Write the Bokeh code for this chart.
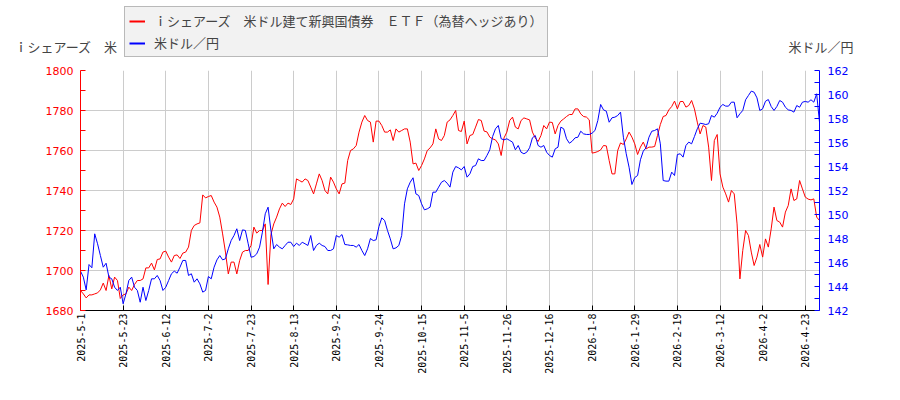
import numpy as np
from bokeh.plotting import figure
from bokeh.layouts import column, row
from bokeh.models import Range1d, LinearAxis, FixedTicker, Legend, LegendItem, Label
from bokeh.embed import file_html
from bokeh.resources import INLINE

# x tick labels (one every 15 trading days)
tick_dates = ["2025-5-1", "2025-5-23", "2025-6-12", "2025-7-2", "2025-7-23",
              "2025-8-13", "2025-9-2", "2025-9-24", "2025-10-15", "2025-11-5",
              "2025-11-26", "2025-12-16", "2026-1-8", "2026-1-29", "2026-2-19",
              "2026-3-12", "2026-4-2", "2026-4-23"]
tick_idx = [15 * k for k in range(len(tick_dates))]

# iShares USD EM bond ETF (hedged), left axis
etf_price = [
    1690.0, 1688.3, 1686.3, 1687.8, 1687.8, 1688.3, 1688.8, 1690.3, 1693.7, 1690.0,
    1697.5, 1690.8, 1696.7, 1695.0, 1686.0, 1687.8, 1688.3, 1691.7, 1690.0, 1693.0,
    1695.0, 1695.0, 1695.8, 1701.3, 1701.3, 1703.7, 1700.3, 1705.5, 1705.8, 1709.2,
    1709.7, 1706.7, 1704.2, 1707.5, 1707.8, 1706.0, 1708.7, 1709.2, 1711.7, 1720.0,
    1722.5, 1723.3, 1723.8, 1737.8, 1736.3, 1737.0, 1737.5, 1734.2, 1731.7, 1726.7,
    1718.3, 1709.2, 1698.3, 1704.2, 1704.2, 1698.3, 1705.0, 1709.2, 1710.0, 1710.0,
    1712.5, 1721.7, 1718.7, 1720.0, 1720.0, 1723.3, 1693.0, 1718.0, 1723.3, 1726.7,
    1730.8, 1733.7, 1732.0, 1733.7, 1733.0, 1735.8, 1745.8, 1745.0, 1744.2, 1745.8,
    1745.0, 1741.7, 1738.3, 1743.3, 1748.3, 1745.0, 1740.0, 1738.3, 1746.7, 1744.2,
    1740.8, 1738.3, 1743.3, 1743.7, 1755.0, 1760.0, 1760.8, 1762.5, 1769.2, 1774.2,
    1777.5, 1775.0, 1774.2, 1764.2, 1774.7, 1774.7, 1772.5, 1769.2, 1769.2, 1770.3,
    1765.0, 1770.8, 1769.2, 1770.0, 1770.8, 1770.8, 1764.2, 1753.3, 1753.7, 1750.0,
    1752.5, 1755.8, 1760.0, 1761.3, 1763.3, 1770.8, 1765.8, 1765.0, 1767.5, 1774.2,
    1775.3, 1777.5, 1780.0, 1770.0, 1769.5, 1774.7, 1763.3, 1767.5, 1768.0, 1771.7,
    1775.5, 1775.0, 1769.7, 1769.3, 1766.7, 1765.8, 1765.3, 1763.3, 1757.5, 1766.3,
    1769.2, 1775.0, 1776.7, 1771.7, 1770.8, 1775.0, 1776.3, 1775.8, 1775.3, 1769.2,
    1766.3, 1764.5, 1767.5, 1772.5, 1770.8, 1774.2, 1774.0, 1768.3, 1772.5, 1774.7,
    1775.8, 1777.0, 1778.0, 1778.0, 1780.8, 1780.8, 1778.3, 1777.0, 1776.7, 1775.3,
    1758.7, 1759.0, 1759.5, 1760.3, 1762.5, 1762.3, 1755.0, 1748.3, 1748.3, 1760.0,
    1763.8, 1763.0, 1765.8, 1769.2, 1766.7, 1763.3, 1758.0, 1761.7, 1764.2, 1760.8,
    1761.7, 1761.7, 1762.0, 1767.5, 1773.0, 1777.0, 1777.5, 1780.3, 1782.0, 1784.7,
    1780.8, 1784.5, 1784.5, 1781.7, 1782.5, 1785.0, 1780.8, 1774.2, 1768.3, 1772.5,
    1771.7, 1761.7, 1745.0, 1765.0, 1768.0, 1748.3, 1741.7, 1738.3, 1734.2, 1740.0,
    1738.3, 1723.3, 1695.8, 1710.0, 1720.0, 1717.5, 1709.2, 1702.5, 1706.7, 1713.0,
    1706.7, 1715.8, 1711.7, 1720.8, 1731.7, 1725.0, 1724.2, 1721.7, 1729.2, 1732.5,
    1740.8, 1735.0, 1735.8, 1745.0, 1740.8, 1736.7, 1735.7, 1735.3, 1735.8, 1726.7,
    1725.0]

# USD/JPY, right axis
usd_jpy = [
    145.28, 144.78, 143.72, 145.83, 145.56, 148.39, 147.56, 146.58, 145.61, 145.94,
    144.78, 144.64, 143.94, 143.67, 143.94, 142.56, 143.39, 144.50, 144.78, 143.94,
    143.67, 142.69, 143.94, 142.83, 143.67, 144.64, 144.64, 144.92, 144.50, 143.67,
    143.94, 144.50, 145.06, 145.28, 145.11, 145.61, 146.17, 146.17, 144.92, 145.06,
    144.36, 144.64, 144.22, 143.53, 143.67, 144.83, 144.64, 145.61, 146.22, 146.58,
    146.22, 146.31, 147.14, 147.83, 148.25, 148.81, 147.83, 148.72, 148.67, 147.56,
    146.44, 146.50, 146.72, 147.28, 148.53, 150.06, 150.61, 148.67, 147.14, 147.50,
    147.28, 147.14, 147.42, 147.69, 147.69, 147.33, 147.61, 147.42, 147.69, 147.56,
    147.42, 148.25, 147.00, 147.42, 147.61, 147.42, 147.33, 147.00, 147.00, 147.14,
    148.25, 148.11, 148.33, 147.50, 147.47, 147.42, 147.42, 147.28, 147.50, 147.00,
    146.58, 147.14, 148.00, 147.83, 147.89, 149.00, 149.72, 149.50, 148.67, 147.97,
    147.14, 147.22, 147.42, 148.25, 150.89, 152.14, 152.69, 153.06, 151.72, 151.58,
    150.89, 150.39, 150.47, 150.61, 151.86, 151.86, 152.28, 152.69, 152.83, 152.61,
    152.28, 153.53, 154.00, 153.89, 153.72, 154.00, 153.11, 153.39, 154.00, 154.08,
    154.64, 154.50, 154.50, 154.92, 155.39, 156.50, 157.14, 157.42, 156.31, 156.22,
    156.31, 156.17, 156.03, 155.39, 155.75, 155.19, 155.06, 155.19, 155.56, 156.39,
    156.58, 155.75, 155.61, 155.75, 155.19, 154.92, 154.78, 155.47, 155.61, 157.28,
    157.14, 156.31, 155.94, 156.11, 156.39, 156.44, 156.94, 156.72, 156.67, 156.67,
    156.78, 157.00, 157.83, 159.17, 158.72, 158.61, 157.69, 158.06, 158.11, 158.25,
    158.53, 156.44, 155.06, 153.94, 152.50, 153.08, 153.25, 154.56, 155.28, 155.56,
    156.44, 156.94, 157.00, 157.14, 155.89, 152.83, 152.78, 152.78, 153.53, 153.25,
    155.00, 155.06, 154.78, 155.75, 156.03, 155.89, 156.50, 157.14, 157.61, 157.56,
    157.50, 157.56, 158.25, 158.11, 158.44, 158.94, 159.17, 159.03, 159.03, 159.36,
    159.36, 158.06, 158.39, 158.67, 159.56, 159.92, 160.28, 160.19, 159.72, 158.67,
    158.81, 159.44, 159.58, 159.00, 158.67, 159.00, 159.50, 159.36, 158.94, 158.72,
    158.67, 158.53, 159.08, 158.94, 159.36, 159.42, 159.36, 159.56, 159.36, 160.06,
    157.69]

etf_name = "ｉシェアーズ　米ドル建て新興国債券　ＥＴＦ（為替ヘッジあり）"
fx_name = "米ドル／円"
jp_font = "Noto Sans CJK JP"
RED = "#ff0000"
BLUE = "#0000ff"

W = 892

# ---- header strip: legend and the two axis titles ----
head = figure(width=W, height=62, output_backend="svg", toolbar_location=None,
              x_range=Range1d(0, W), y_range=Range1d(0, 62),
              x_axis_location=None, y_axis_location=None,
              min_border=0, outline_line_color=None)
head.grid.visible = False
# off-screen lines, only used as legend keys
h_etf = head.line([-50, -40], [0, 0], line_color=RED, line_width=2)
h_fx = head.line([-50, -40], [0, 0], line_color=BLUE, line_width=2)

legend = Legend(items=[LegendItem(label=etf_name, renderers=[h_etf]),
                       LegendItem(label=fx_name, renderers=[h_fx])],
                location=(124, 5))
legend.label_text_font = jp_font
legend.label_text_font_size = "13px"
legend.background_fill_color = "#f2f2f2"
legend.background_fill_alpha = 1
legend.border_line_color = "#808080"
legend.border_line_width = 1
legend.padding = 4
legend.spacing = 3
legend.margin = 0
legend.label_height = 16
legend.glyph_height = 16
legend.glyph_width = 16
legend.label_standoff = 9
head.add_layout(legend)

head.add_layout(Label(x=14, y=16, text="ｉシェアーズ　米", text_font=jp_font,
                      text_font_size="13px", text_baseline="middle"))
head.add_layout(Label(x=788, y=16, text=fx_name, text_font=jp_font,
                      text_font_size="13px", text_baseline="middle"))

# ---- main chart ----
x = list(range(len(etf_price)))

p = figure(width=W, height=330, output_backend="svg", toolbar_location=None,
           x_range=Range1d(0, len(x) - 1), y_range=Range1d(1680, 1800),
           min_border_left=80, min_border_right=73, min_border_top=8,
           min_border_bottom=82)
p.extra_y_ranges = {"fx": Range1d(142, 162)}
p.outline_line_color = None

p.line(x, etf_price, line_color=RED, line_width=1)
p.line(x, usd_jpy, line_color=BLUE, line_width=1, y_range_name="fx")

# bottom axis
xt = FixedTicker(ticks=tick_idx)
p.xaxis.ticker = xt
p.xgrid.ticker = xt
p.xaxis.major_label_overrides = {i: d for i, d in zip(tick_idx, tick_dates)}
p.xaxis.major_label_orientation = np.pi / 2
p.xaxis.major_label_text_font = "DejaVu Sans Mono"
p.xaxis.major_label_text_font_size = "10px"
p.xaxis.major_label_text_color = "black"
p.xaxis.major_label_standoff = 3
p.xaxis.axis_line_color = "black"
p.xaxis.major_tick_in = 5
p.xaxis.major_tick_out = 0
p.xaxis.minor_tick_line_color = None

# left axis
yt = FixedTicker(ticks=list(range(1680, 1801, 20)), minor_ticks=list(range(1690, 1800, 20)))
p.yaxis.ticker = yt
p.ygrid.ticker = yt
p.yaxis.axis_line_color = RED
p.yaxis.major_tick_line_color = RED
p.yaxis.minor_tick_line_color = RED
p.yaxis.major_tick_in = 5
p.yaxis.major_tick_out = 0
p.yaxis.minor_tick_in = 5
p.yaxis.minor_tick_out = 0
p.yaxis.major_label_text_color = RED
p.yaxis.major_label_text_font = "DejaVu Sans"
p.yaxis.major_label_text_font_size = "11px"
p.yaxis.major_label_standoff = 7

# right axis
ry = LinearAxis(y_range_name="fx",
                ticker=FixedTicker(ticks=list(range(142, 163, 2)),
                                   minor_ticks=list(range(143, 162, 2))))
ry.axis_line_color = BLUE
ry.major_tick_line_color = BLUE
ry.minor_tick_line_color = BLUE
ry.major_tick_in = 5
ry.major_tick_out = 0
ry.minor_tick_in = 5
ry.minor_tick_out = 0
ry.major_label_text_color = BLUE
ry.major_label_text_font = "DejaVu Sans"
ry.major_label_text_font_size = "11px"
ry.major_label_standoff = 8
p.add_layout(ry, "right")

p.grid.grid_line_color = "#cccccc"
p.grid.grid_line_width = 1

page = column(row(head), p, spacing=0)
open("out.html", "w").write(file_html(page, INLINE))
